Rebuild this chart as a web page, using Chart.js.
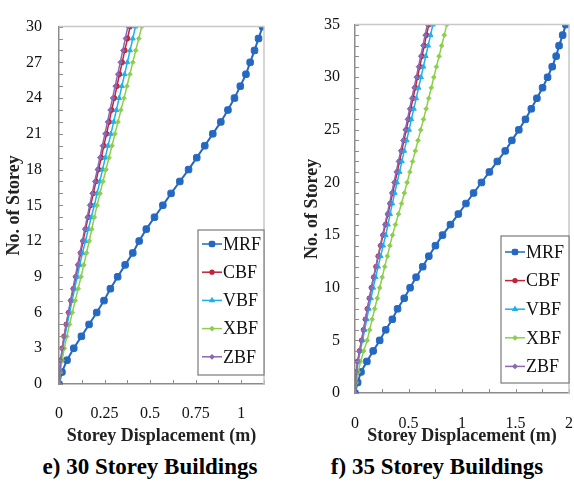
<!DOCTYPE html>
<html>
<head>
<meta charset="utf-8">
<script src="https://cdn.jsdelivr.net/npm/chart.js@4.4.0/dist/chart.umd.min.js"></script>
<style>
body { margin: 0; background: #fff; width: 574px; height: 482px; position: relative; overflow: hidden; font-family: 'Liberation Serif', 'Times New Roman', serif; }
.box { position: absolute; top: 0; height: 450px; }
#boxL { left: 0; width: 290px; }
#boxR { left: 290px; width: 284px; }
.cap { position: absolute; top: 452px; font-weight: bold; font-size: 23px; line-height: 30px; white-space: nowrap; transform: translateX(-50%); }
</style>
</head>
<body>
<div class="box" id="boxL"><canvas id="chart30"></canvas></div>
<div class="box" id="boxR"><canvas id="chart35"></canvas></div>
<div class="cap" style="left:150px">e) 30 Storey Buildings</div>
<div class="cap" style="left:437px">f) 35 Storey Buildings</div>
<script>
// series names, same for both buildings
const seriesNames = ['MRF', 'CBF', 'VBF', 'XBF', 'ZBF'];

// 30 storey building
const storeys30 = [0, 1, 2, 3, 4, 5, 6, 7, 8, 9, 10, 11, 12, 13, 14, 15, 16, 17, 18, 19, 20, 21, 22, 23, 24, 25, 26, 27, 28, 29, 30];
const mrf30 = [0, 0.016, 0.044, 0.081, 0.123, 0.165, 0.207, 0.247, 0.282, 0.322, 0.363, 0.405, 0.44, 0.479, 0.524, 0.57, 0.615, 0.663, 0.711, 0.756, 0.8, 0.844, 0.888, 0.927, 0.963, 0.995, 1.026, 1.049, 1.073, 1.095, 1.117];
const cbf30 = [0, 0.004, 0.010, 0.018, 0.028, 0.040, 0.053, 0.066, 0.079, 0.093, 0.106, 0.119, 0.132, 0.146, 0.160, 0.174, 0.188, 0.203, 0.217, 0.232, 0.246, 0.261, 0.275, 0.289, 0.304, 0.318, 0.332, 0.347, 0.361, 0.376, 0.390];
const vbf30 = [0, 0.005, 0.012, 0.021, 0.032, 0.045, 0.058, 0.072, 0.086, 0.100, 0.114, 0.129, 0.145, 0.161, 0.177, 0.194, 0.209, 0.224, 0.239, 0.254, 0.269, 0.285, 0.300, 0.315, 0.330, 0.345, 0.360, 0.375, 0.390, 0.405, 0.420];
const xbf30 = [0, 0.007, 0.017, 0.029, 0.043, 0.058, 0.073, 0.089, 0.105, 0.121, 0.136, 0.151, 0.166, 0.180, 0.194, 0.209, 0.225, 0.241, 0.258, 0.274, 0.291, 0.307, 0.324, 0.340, 0.357, 0.373, 0.389, 0.405, 0.421, 0.438, 0.454];
const zbf30 = [0, 0.004, 0.010, 0.018, 0.028, 0.039, 0.051, 0.063, 0.076, 0.089, 0.102, 0.115, 0.128, 0.141, 0.155, 0.168, 0.182, 0.196, 0.210, 0.224, 0.238, 0.252, 0.266, 0.280, 0.294, 0.308, 0.322, 0.336, 0.350, 0.364, 0.378];

// 35 storey building
const storeys35 = [0, 1, 2, 3, 4, 5, 6, 7, 8, 9, 10, 11, 12, 13, 14, 15, 16, 17, 18, 19, 20, 21, 22, 23, 24, 25, 26, 27, 28, 29, 30, 31, 32, 33, 34, 35];
const mrf35 = [0, 0.025, 0.056, 0.111, 0.17, 0.231, 0.287, 0.349, 0.398, 0.46, 0.515, 0.571, 0.633, 0.69, 0.752, 0.818, 0.892, 0.966, 1.037, 1.108, 1.182, 1.256, 1.33, 1.404, 1.466, 1.531, 1.593, 1.648, 1.7, 1.753, 1.8, 1.843, 1.88, 1.907, 1.941, 1.97];
const cbf35 = [0, 0.005, 0.013, 0.025, 0.043, 0.062, 0.080, 0.098, 0.116, 0.135, 0.154, 0.175, 0.197, 0.218, 0.240, 0.262, 0.285, 0.308, 0.330, 0.352, 0.373, 0.395, 0.416, 0.437, 0.458, 0.479, 0.500, 0.521, 0.542, 0.563, 0.584, 0.605, 0.626, 0.647, 0.668, 0.690];
const vbf35 = [0, 0.006, 0.016, 0.030, 0.049, 0.071, 0.090, 0.110, 0.129, 0.149, 0.170, 0.193, 0.216, 0.240, 0.263, 0.287, 0.308, 0.328, 0.349, 0.371, 0.393, 0.416, 0.438, 0.460, 0.483, 0.505, 0.527, 0.550, 0.572, 0.594, 0.617, 0.639, 0.661, 0.684, 0.706, 0.728];
const xbf35 = [0, 0.012, 0.030, 0.052, 0.082, 0.114, 0.137, 0.160, 0.184, 0.208, 0.231, 0.254, 0.278, 0.302, 0.326, 0.350, 0.378, 0.406, 0.435, 0.461, 0.487, 0.513, 0.538, 0.563, 0.589, 0.614, 0.640, 0.665, 0.689, 0.713, 0.737, 0.761, 0.786, 0.810, 0.834, 0.858];
const zbf35 = [0, 0.005, 0.013, 0.025, 0.042, 0.061, 0.079, 0.097, 0.115, 0.134, 0.153, 0.173, 0.194, 0.215, 0.236, 0.257, 0.279, 0.301, 0.322, 0.343, 0.364, 0.385, 0.406, 0.427, 0.448, 0.469, 0.490, 0.510, 0.531, 0.552, 0.573, 0.593, 0.614, 0.635, 0.655, 0.676];

// look of each series (MRF, CBF, VBF, XBF, ZBF)
const seriesStyle = [
  { color: '#2468c2', point: 'rectRounded', r: 3.8, w: 2 },
  { color: '#c0233a', point: 'circle', r: 2.4, w: 1.5 },
  { color: '#1cb1ee', point: 'triangle', r: 2.8, w: 1.5 },
  { color: '#8ccf4c', point: 'rectRot', r: 2.3, w: 1.5 },
  { color: '#8a68b4', point: 'rectRot', r: 2.3, w: 1.5 }
];

const FONT = "'Liberation Serif', 'Times New Roman', serif";

function isMult(v, step) {
  return Math.abs(Math.round(v / step) * step - v) < 1e-6;
}

// small tick marks drawn inside the plot, like Excel
const innerTicks = {
  id: 'innerTicks',
  afterDraw(chart) {
    const ctx = chart.ctx;
    const a = chart.chartArea;
    ctx.save();
    ctx.strokeStyle = '#8c8c8c';
    ctx.lineWidth = 1;
    ctx.beginPath();
    chart.scales.x.ticks.forEach(t => {
      const px = Math.round(chart.scales.x.getPixelForValue(t.value)) + 0.5;
      ctx.moveTo(px, a.bottom);
      ctx.lineTo(px, a.bottom - 4);
    });
    chart.scales.y.ticks.forEach(t => {
      const py = Math.round(chart.scales.y.getPixelForValue(t.value)) + 0.5;
      ctx.moveTo(a.left, py);
      ctx.lineTo(a.left + 4, py);
    });
    ctx.stroke();
    // top and right frame
    ctx.strokeStyle = '#c8c8c8';
    ctx.lineWidth = 1.5;
    ctx.beginPath();
    ctx.moveTo(a.left, a.top);
    ctx.lineTo(a.right, a.top);
    ctx.lineTo(a.right, a.bottom);
    ctx.stroke();
    ctx.restore();
  }
};

// legend box sitting in the lower right corner of the plot
const legendBox = {
  id: 'legendBox',
  afterDraw(chart, args, opts) {
    const ctx = chart.ctx;
    const a = chart.chartArea;
    const x0 = a.right - opts.w, x1 = a.right;
    const y1 = a.bottom - opts.gap, y0 = y1 - opts.h;
    ctx.save();
    ctx.fillStyle = '#fff';
    ctx.fillRect(x0, y0, x1 - x0, y1 - y0);
    ctx.strokeStyle = '#7a7a7a';
    ctx.lineWidth = 1.2;
    ctx.strokeRect(x0, y0, x1 - x0, y1 - y0);
    ctx.font = '18px ' + FONT;
    ctx.textBaseline = 'middle';
    chart.data.datasets.forEach((ds, i) => {
      const y = y0 + opts.first + i * opts.step;
      ctx.strokeStyle = ds.borderColor;
      ctx.lineWidth = 1.5;
      ctx.beginPath();
      ctx.moveTo(x0 + 4, y);
      ctx.lineTo(x0 + 24, y);
      ctx.stroke();
      ctx.fillStyle = ds.borderColor;
      Chart.helpers.drawPoint(ctx, { pointStyle: ds.pointStyle, radius: ds.pointRadius * 0.8, borderWidth: 1 }, x0 + 14, y);
      ctx.fillStyle = '#111';
      ctx.fillText(ds.label, x0 + 25, y + 1);
    });
    ctx.restore();
  }
};

function makeChart(id, c) {
  const datasets = seriesNames.map((name, k) => ({
    label: name,
    data: c.storeys.map((s, i) => ({ x: c.values[k][i], y: s })),
    showLine: true,
    borderColor: seriesStyle[k].color,
    backgroundColor: seriesStyle[k].color,
    borderWidth: seriesStyle[k].w,
    pointStyle: seriesStyle[k].point,
    pointRadius: seriesStyle[k].r,
    pointBorderWidth: 1,
    pointBorderColor: seriesStyle[k].color,
    pointBackgroundColor: seriesStyle[k].color,
    order: 5 - k
  }));

  return new Chart(document.getElementById(id), {
    type: 'scatter',
    data: { datasets: datasets },
    options: {
      responsive: true,
      maintainAspectRatio: false,
      animation: false,
      events: [],
      layout: { padding: c.pad },
      plugins: {
        legend: { display: false },
        tooltip: { enabled: false },
        legendBox: c.legend
      },
      scales: {
        x: {
          type: 'linear',
          min: 0,
          max: c.xMax,
          grid: { display: false, drawTicks: false, tickLength: 0 },
          border: { display: true, color: '#8c8c8c', width: 1.5 },
          ticks: {
            stepSize: c.xStep,
            autoSkip: false,
            maxRotation: 0,
            padding: c.xTickPad,
            color: '#111',
            font: { family: FONT, size: 16 },
            callback: v => isMult(v, c.xLabelStep) ? String(+v.toFixed(3)) : ''
          },
          title: {
            display: true,
            text: 'Storey Displacement (m)',
            color: '#222',
            font: { family: FONT, size: 18, weight: 'bold' },
            padding: { top: 0, bottom: 3 }
          },
          afterFit: s => { s.height = c.xHeight; s.paddingLeft = 0; s.paddingRight = 0; }
        },
        y: {
          type: 'linear',
          min: 0,
          max: c.yMax,
          grid: { display: false, drawTicks: false, tickLength: 0 },
          border: { display: true, color: '#8c8c8c', width: 1.5 },
          ticks: {
            stepSize: 1,
            autoSkip: false,
            padding: c.yTickPad,
            color: '#111',
            font: { family: FONT, size: 16 },
            callback: v => v % c.yLabelStep === 0 ? String(v) : ''
          },
          title: {
            display: true,
            text: 'No. of Storey',
            color: '#222',
            font: { family: FONT, size: 18, weight: 'bold' },
            padding: { top: c.yTitlePad, bottom: 0 }
          },
          afterFit: s => { s.width = c.yWidth; }
        }
      }
    },
    plugins: [innerTicks, legendBox]
  });
}

makeChart('chart30', {
  storeys: storeys30,
  values: [mrf30, cbf30, vbf30, xbf30, zbf30],
  xMax: 1.125, xStep: 0.125, xLabelStep: 0.25,
  yMax: 30, yLabelStep: 3,
  yWidth: 59, xHeight: 66, yTickPad: 17, yTitlePad: 4, xTickPad: 20,
  pad: { left: 0, top: 11, right: 26, bottom: 0 },
  legend: { w: 66, h: 145, gap: 9, first: 14, step: 28.2 }
});

makeChart('chart35', {
  storeys: storeys35,
  values: [mrf35, cbf35, vbf35, xbf35, zbf35],
  xMax: 2, xStep: 0.25, xLabelStep: 0.5,
  yMax: 35, yLabelStep: 5,
  yWidth: 65, xHeight: 57, yTickPad: 15, yTitlePad: 12, xTickPad: 21,
  pad: { left: 0, top: 13, right: 3, bottom: 0 },
  legend: { w: 68, h: 147, gap: 10, first: 16, step: 28.6 }
});
</script>
</body>
</html>
